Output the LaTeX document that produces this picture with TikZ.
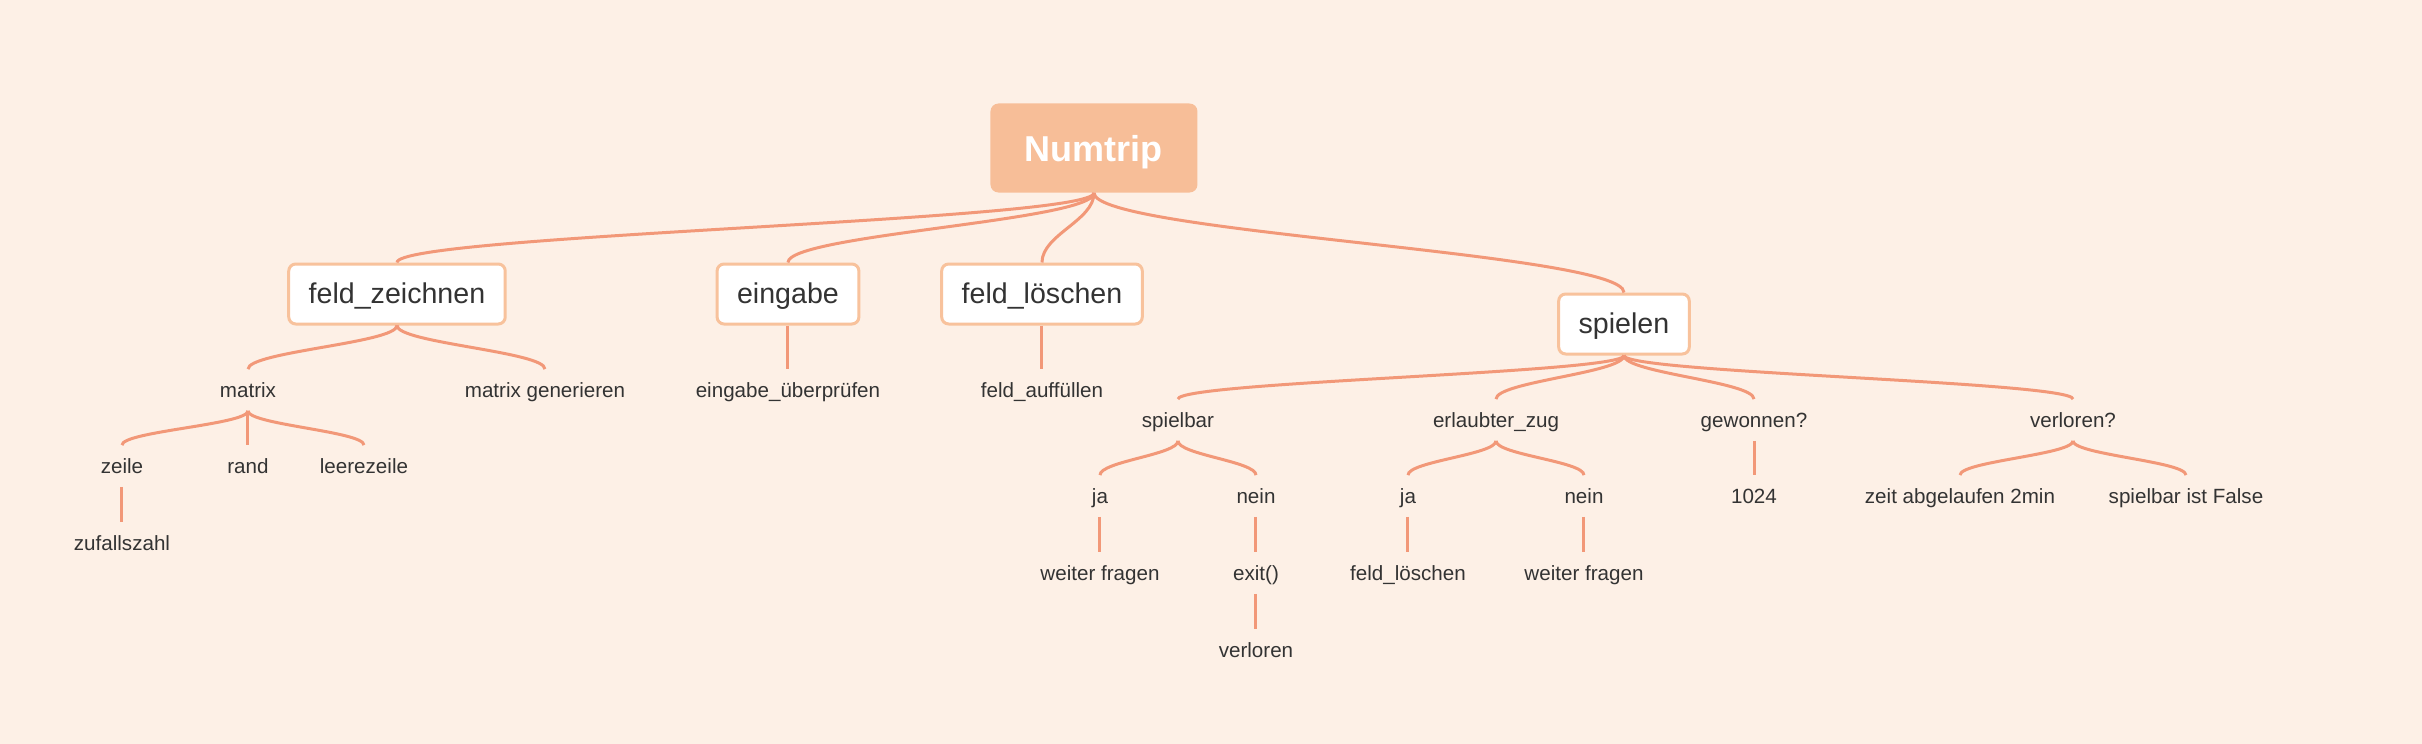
\documentclass[tikz,border=0pt]{standalone}
\usepackage{fontspec}
\setmainfont{Liberation Sans}
\usepackage{tikz}
\usetikzlibrary{positioning,calc}
\definecolor{paper}{HTML}{FDF0E6}
\definecolor{peach}{HTML}{F7BE98}
\definecolor{rim}{HTML}{F8C29C}
\definecolor{twig}{HTML}{F29878}
\definecolor{ink}{HTML}{333333}
\tikzset{
  root topic/.style={
    fill=peach,
    rounded corners=4pt,
    text=white,
    font=\fontsize{18}{20}\selectfont\bfseries,
    minimum width=103.5pt,
    minimum height=44.5pt,
    text height=16pt,
    text depth=3pt,
    inner sep=0pt
  },
  main topic/.style={
    draw=rim,
    fill=white,
    line width=1.5pt,
    rounded corners=3.5pt,
    text=ink,
    font=\fontsize{14.3}{16}\selectfont,
    minimum height=30pt,
    text height=12pt,
    text depth=2.5pt,
    inner xsep=10pt,
    inner ysep=0pt
  },
  sub topic/.style={
    text=ink,
    font=\fontsize{10.3}{12}\selectfont,
    minimum height=20.5pt,
    text height=9pt,
    text depth=2pt,
    inner sep=0pt
  },
  branch/.style={
    draw=twig,
    line width=1.5pt,
    to path={.. controls ($(\tikztostart)!0.4!(\tikztostart |- \tikztotarget)$)
      and ($(\tikztotarget)!0.4!(\tikztotarget |- \tikztostart)$) .. (\tikztotarget) \tikztonodes}
  }
}
\begin{document}
\begin{tikzpicture}[on grid, node distance=38.5pt]
 \path[use as bounding box, fill=paper] (-547pt,-298pt) rectangle (664pt,74pt);

 \node[root topic] (root) {Numtrip};
 \node[main topic] (zeichnen) [below left=73pt and 348.5pt of root] {feld\_zeichnen};
 \node[main topic] (eingabe) [below left=73pt and 153pt of root] {eingabe};
 \node[main topic] (loeschen) [below left=73pt and 26pt of root] {feld\_löschen};
 \node[main topic] (spielen) [below right=88pt and 265pt of root] {spielen};

 \node[sub topic] (matrix) [below left=48pt and 74.5pt of zeichnen] {matrix};
 \node[sub topic] (generieren) [below right=48pt and 74pt of zeichnen] {matrix generieren};
 \node[sub topic] (pruefen) [below=48pt of eingabe] {eingabe\_überprüfen};
 \node[sub topic] (auffuellen) [below=48pt of loeschen] {feld\_auffüllen};
 \node[sub topic] (zeile) [below left=38pt and 63pt of matrix] {zeile};
 \node[sub topic] (rand) [below=38pt of matrix] {rand};
 \node[sub topic] (leer) [below right=38pt and 58pt of matrix] {leerezeile};
 \node[sub topic] (zufall) [below=of zeile] {zufallszahl};

 \node[sub topic] (spielbar) [below left=48pt and 223pt of spielen] {spielbar};
 \node[sub topic] (erlaubt) [below left=48pt and 64pt of spielen] {erlaubter\_zug};
 \node[sub topic] (gewonnen) [below right=48pt and 65pt of spielen] {gewonnen?};
 \node[sub topic] (verloren) [below right=48pt and 224.5pt of spielen] {verloren?};

 \node[sub topic] (ja1) [below left=38pt and 39pt of spielbar] {ja};
 \node[sub topic] (nein1) [below right=38pt and 39pt of spielbar] {nein};
 \node[sub topic] (weiter1) [below=of ja1] {weiter fragen};
 \node[sub topic] (exit) [below=of nein1] {exit()};
 \node[sub topic] (verl) [below=of exit] {verloren};
 \node[sub topic] (ja2) [below left=38pt and 44pt of erlaubt] {ja};
 \node[sub topic] (nein2) [below right=38pt and 44pt of erlaubt] {nein};
 \node[sub topic] (loeschen2) [below=of ja2] {feld\_löschen};
 \node[sub topic] (weiter2) [below=of nein2] {weiter fragen};
 \node[sub topic] (zahl) [below=38pt of gewonnen] {1024};
 \node[sub topic] (zeit) [below left=38pt and 56.5pt of verloren] {zeit abgelaufen 2min};
 \node[sub topic] (false) [below right=38pt and 56.5pt of verloren] {spielbar ist False};

 \path
  (root.south) edge[branch] (zeichnen.north)
  (root.south) edge[branch] (eingabe.north)
  (root.south) edge[branch] (loeschen.north)
  (root.south) edge[branch] (spielen.north)
  (zeichnen.south) edge[branch] (matrix.north)
  (zeichnen.south) edge[branch] (generieren.north)
  (eingabe.south) edge[branch] (pruefen.north)
  (loeschen.south) edge[branch] (auffuellen.north)
  (matrix.south) edge[branch] (zeile.north)
  (matrix.south) edge[branch] (rand.north)
  (matrix.south) edge[branch] (leer.north)
  (zeile.south) edge[branch] (zufall.north)
  (spielen.south) edge[branch] (spielbar.north)
  (spielen.south) edge[branch] (erlaubt.north)
  (spielen.south) edge[branch] (gewonnen.north)
  (spielen.south) edge[branch] (verloren.north)
  (spielbar.south) edge[branch] (ja1.north)
  (spielbar.south) edge[branch] (nein1.north)
  (ja1.south) edge[branch] (weiter1.north)
  (nein1.south) edge[branch] (exit.north)
  (exit.south) edge[branch] (verl.north)
  (erlaubt.south) edge[branch] (ja2.north)
  (erlaubt.south) edge[branch] (nein2.north)
  (ja2.south) edge[branch] (loeschen2.north)
  (nein2.south) edge[branch] (weiter2.north)
  (gewonnen.south) edge[branch] (zahl.north)
  (verloren.south) edge[branch] (zeit.north)
  (verloren.south) edge[branch] (false.north);
\end{tikzpicture}
\end{document}
